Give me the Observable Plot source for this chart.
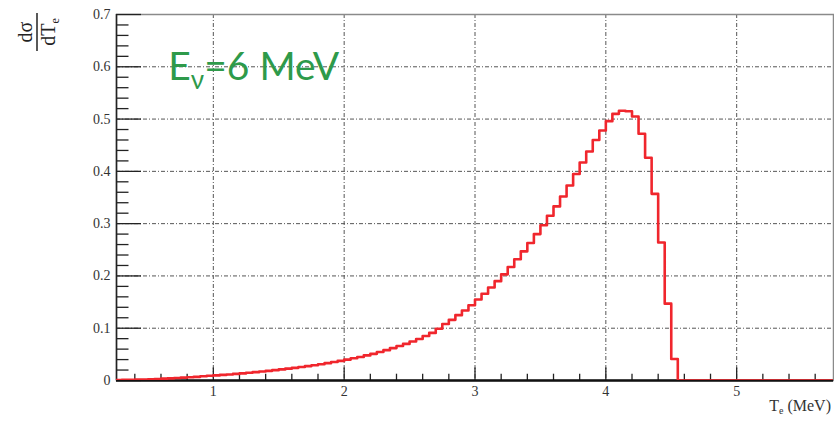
<!DOCTYPE html>
<html><head><meta charset="utf-8">
<script src="https://cdn.jsdelivr.net/npm/d3@7"></script>
<script src="https://cdn.jsdelivr.net/npm/@observablehq/plot@0.6"></script>
<style>
  html,body{margin:0;padding:0;background:#fff}
  #chart svg{display:block}
</style>
</head><body><div id="chart"></div>
<script>
// Histogram: dσ/dTe for Eν = 6 MeV, bins of 0.05 MeV starting at 0.25 MeV
const binStart = 0.25;
const binWidth = 0.05;
const dSigma = [
  0.001, 0.0012, 0.0015, 0.0018, 0.002, 0.0024, 0.003, 0.0035, 0.004, 0.0048,
  0.0055, 0.0062, 0.007, 0.008, 0.009, 0.0098, 0.0107, 0.0116, 0.0126, 0.0136,
  0.0148, 0.016, 0.0172, 0.0185, 0.0198, 0.0212, 0.0227, 0.0242, 0.0258, 0.0275,
  0.0293, 0.0312, 0.0332, 0.0353, 0.0375, 0.040, 0.0425, 0.045, 0.048, 0.051,
  0.0545, 0.058, 0.062, 0.066, 0.070, 0.0745, 0.0795, 0.085, 0.091, 0.099,
  0.108, 0.116, 0.125, 0.134, 0.144, 0.155, 0.166, 0.178, 0.190, 0.203,
  0.217, 0.232, 0.247, 0.263, 0.280, 0.297, 0.315, 0.333, 0.352, 0.373,
  0.395, 0.417, 0.438, 0.460, 0.478, 0.496, 0.510, 0.516, 0.515, 0.505,
  0.472, 0.426, 0.357, 0.264, 0.147, 0.041,
  0, 0, 0, 0, 0, 0, 0, 0, 0, 0, 0, 0, 0, 0, 0, 0, 0, 0, 0, 0, 0, 0, 0, 0
];
const xDomain = [0.26, 5.74];
const yDomain = [0, 0.7];
const xTicks = [1, 2, 3, 4, 5];
const xTickLabels = ["1", "2", "3", "4", "5"];
const yTicks = [0, 0.1, 0.2, 0.3, 0.4, 0.5, 0.6, 0.7];
const yTickLabels = ["0", "0.1", "0.2", "0.3", "0.4", "0.5", "0.6", "0.7"];
const gridX = [1, 2, 3, 4, 5];
const gridY = [0.1, 0.2, 0.3, 0.4, 0.5, 0.6];
const xMinor = d3.range(0.4, 5.7, 0.2).filter(v => Math.abs(v - Math.round(v)) > 1e-6);
const yMinor = d3.range(0.02, 0.7, 0.02).filter(v => Math.abs(v * 10 - Math.round(v * 10)) > 1e-6);
const annotation = {x: 0.66, y: 0.573, base: "E", sub: "ν", rest: "=6 MeV"};

// step points built from bins
const steps = dSigma.map((v, i) => ({x: binStart + i * binWidth, y: v}));
steps.push({x: binStart + dSigma.length * binWidth, y: dSigma[dSigma.length - 1]});

const serif = "'Liberation Serif', 'DejaVu Serif', serif";
const gridStyle = {stroke: "#555", strokeWidth: 1, strokeDasharray: "4,2,1,2"};

const chart = Plot.plot({
  width: 834,
  height: 421,
  marginLeft: 116,
  marginRight: 1,
  marginTop: 14,
  marginBottom: 41,
  style: {fontFamily: serif, background: "#fff"},
  x: {domain: xDomain},
  y: {domain: yDomain},
  marks: [
    Plot.ruleX(gridX, {...gridStyle}),
    Plot.ruleY(gridY, {...gridStyle}),
    Plot.frame({stroke: "#8a8a8a", strokeWidth: 1.5}),
    // minor + major ticks pointing inward
    Plot.axisY(yMinor, {tickSize: -12.5, text: null, stroke: "#222", strokeWidth: 1.3, label: null}),
    Plot.axisY(yTicks, {tickSize: -25, text: null, stroke: "#222", strokeWidth: 1.3, label: null}),
    Plot.axisX(xMinor, {tickSize: -6.3, text: null, stroke: "#222", strokeWidth: 1.3, label: null}),
    Plot.axisX(xTicks, {tickSize: -12.6, text: null, stroke: "#222", strokeWidth: 1.3, label: null}),
    // tick labels
    Plot.axisY(yTicks, {tickSize: 0, tickPadding: 6, tickFormat: (d, i) => yTickLabels[i], fontSize: 14, fill: "#333", label: null}),
    Plot.axisX(xTicks, {tickSize: 0, tickPadding: 6, tickFormat: (d, i) => xTickLabels[i], fontSize: 14, fill: "#333", label: null}),
    Plot.ruleY([0], {stroke: "#111", strokeWidth: 2.5}),
    Plot.ruleX([xDomain[0]], {stroke: "#222", strokeWidth: 1.5}),
    Plot.line(steps, {x: "x", y: "y", curve: "step-after", stroke: "#f0262d", strokeWidth: 2.6, clip: true})
  ]
});

document.getElementById("chart").appendChild(chart);

// Titles and annotation
const svg = d3.select(chart);
const sx = chart.scale("x"), sy = chart.scale("y");
const x0 = sx.apply(xDomain[0]), x1 = sx.apply(xDomain[1]);
const yTop = sy.apply(yDomain[1]), yBot = sy.apply(yDomain[0]);

// Y title: dσ / dTe rotated fraction (reads bottom to top)
const yt = svg.append("g")
  .attr("transform", `translate(37,${yTop + 18}) rotate(-90)`)
  .attr("font-family", serif).attr("font-size", 20).attr("fill", "#222")
  .attr("text-anchor", "middle");
yt.append("text").attr("y", -5).text("dσ");
const den = yt.append("text").attr("y", 18);
den.append("tspan").text("dT");
den.append("tspan").attr("font-size", 12).attr("dy", 4).text("e");
yt.append("line").attr("x1", -19).attr("x2", 19).attr("y1", 0).attr("y2", 0)
  .attr("stroke", "#222").attr("stroke-width", 1.5);

// X title
const xt = svg.append("text")
  .attr("x", x1 - 2).attr("y", yBot + 31)
  .attr("text-anchor", "end").attr("font-family", serif).attr("font-size", 16).attr("fill", "#333");
xt.append("tspan").text("T");
xt.append("tspan").attr("font-size", 10).attr("dy", 3).text("e");
xt.append("tspan").attr("dy", -3).text(" (MeV)");

// Annotation Eν=6 MeV
const an = svg.append("text")
  .attr("x", sx.apply(annotation.x)).attr("y", sy.apply(annotation.y))
  .attr("text-anchor", "start")
  .attr("font-family", "Lato, 'Open Sans', sans-serif").attr("font-size", 39).attr("fill", "#2e9a4a");
an.append("tspan").text(annotation.base);
an.append("tspan").attr("font-size", 26).attr("dy", 9).text(annotation.sub);
an.append("tspan").attr("dy", -9).text(annotation.rest);
</script>
</body></html>
